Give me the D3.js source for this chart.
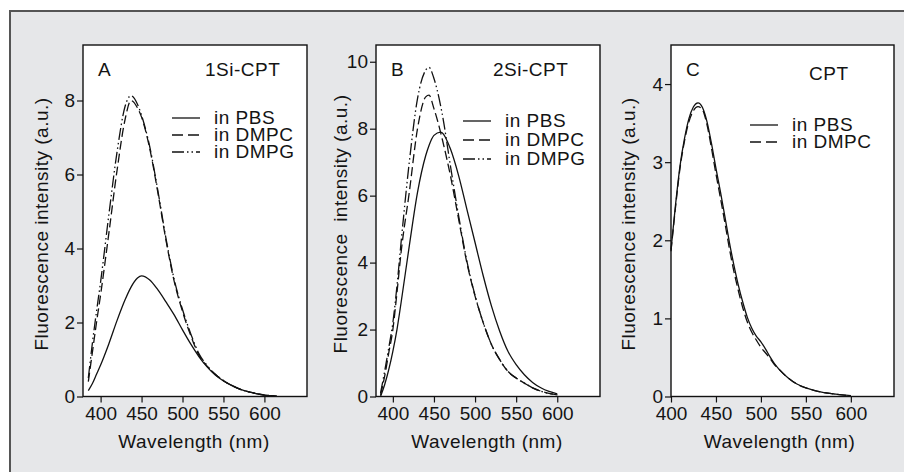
<!DOCTYPE html>
<html>
<head>
<meta charset="utf-8">
<script src="https://cdn.jsdelivr.net/npm/d3@7"></script>
<style>
  body { margin: 0; background: #fff; }
  text { font-family: "Liberation Sans", Arial, sans-serif; fill: #141414; }
</style>
</head>
<body>
<svg id="chart" width="904" height="472"></svg>
<script>
// panel A : 1Si-CPT
var wlA = [385, 390, 395, 400, 410, 420, 430, 437, 445, 450, 460, 470, 480, 490, 500, 510, 520, 530, 540, 550, 560, 570, 580, 590, 600, 610, 615];
var aPBS  = [0.16, 0.35, 0.6, 0.85, 1.42, 2.05, 2.62, 2.95, 3.2, 3.26, 3.15, 2.88, 2.55, 2.2, 1.8, 1.42, 1.08, 0.8, 0.58, 0.42, 0.3, 0.2, 0.13, 0.08, 0.04, 0.02, 0.01];
var aDMPC = [0.4, 1.2, 2.0, 2.75, 4.4, 6.1, 7.5, 8.0, 7.8, 7.55, 6.7, 5.5, 4.2, 3.1, 2.3, 1.65, 1.12, 0.82, 0.6, 0.43, 0.3, 0.2, 0.13, 0.08, 0.04, 0.02, 0.01];
var aDMPG = [0.5, 1.45, 2.3, 3.1, 4.9, 6.6, 7.85, 8.13, 7.9, 7.6, 6.75, 5.55, 4.25, 3.15, 2.35, 1.7, 1.16, 0.84, 0.6, 0.43, 0.3, 0.2, 0.13, 0.08, 0.04, 0.02, 0.01];

// panel B : 2Si-CPT
var wlB = [385, 390, 395, 400, 405, 410, 420, 430, 440, 444, 450, 458, 460, 470, 480, 490, 500, 510, 520, 530, 540, 550, 560, 570, 580, 590, 600];
var bPBS  = [0, 0.35, 0.8, 1.35, 2.0, 2.8, 4.5, 6.1, 7.2, 7.5, 7.8, 7.9, 7.88, 7.4, 6.6, 5.6, 4.6, 3.6, 2.7, 1.95, 1.35, 0.95, 0.65, 0.42, 0.26, 0.15, 0.08];
var bDMPC = [0.05, 0.6, 1.3, 2.0, 3.1, 4.3, 6.1, 8.0, 8.95, 9.0, 8.6, 7.9, 7.7, 6.6, 5.3, 4.0, 3.0, 2.2, 1.55, 1.1, 0.75, 0.55, 0.4, 0.26, 0.16, 0.09, 0.05];
var bDMPG = [0.1, 0.75, 1.45, 2.2, 3.3, 4.6, 7.0, 8.9, 9.75, 9.83, 9.5, 8.7, 8.45, 6.9, 5.4, 4.05, 3.02, 2.2, 1.55, 1.1, 0.75, 0.55, 0.4, 0.26, 0.16, 0.09, 0.05];

// panel C : CPT
var wlC = [400, 405, 410, 415, 420, 425, 430, 435, 440, 445, 450, 455, 460, 465, 470, 475, 480, 485, 490, 495, 500, 505, 510, 515, 520, 530, 540, 550, 560, 570, 580, 590, 600];
var cPBS  = [1.88, 2.45, 2.95, 3.3, 3.56, 3.71, 3.76, 3.7, 3.52, 3.24, 2.92, 2.62, 2.3, 1.97, 1.68, 1.42, 1.2, 1.01, 0.87, 0.77, 0.7, 0.61, 0.51, 0.42, 0.35, 0.24, 0.16, 0.11, 0.075, 0.05, 0.035, 0.02, 0.01];
var cDMPC = [1.86, 2.42, 2.92, 3.27, 3.52, 3.66, 3.71, 3.67, 3.48, 3.18, 2.85, 2.54, 2.22, 1.89, 1.6, 1.35, 1.13, 0.95, 0.82, 0.72, 0.63, 0.56, 0.49, 0.41, 0.35, 0.24, 0.16, 0.11, 0.075, 0.05, 0.035, 0.02, 0.01];

var xTicks = [400, 450, 500, 550, 600];
var yTicksA = [0, 2, 4, 6, 8];
var yTicksB = [0, 2, 4, 6, 8, 10];
var yTicksC = [0, 1, 2, 3, 4];

var seriesNames = ['in PBS', 'in DMPC', 'in DMPG'];
var dashes = [null, '9,4', '12,3,1.5,3,1.5,3'];

var plotTop = 45, plotBottom = 396.5;
var fs = 19;

var panels = [
  { letter: 'A', title: '1Si-CPT', left: 83, right: 307, xDom: [378.5, 652], yMax: 9.5, yTicks: yTicksA,
    wl: wlA, series: [aPBS, aDMPC, aDMPG], ylabel: 'Fluorescence intensity (a.u.)', ylabX: 48,
    titleX: 205, titleY: 76, legX: 172, legY: [118, 135, 152] },
  { letter: 'B', title: '2Si-CPT', left: 376, right: 600, xDom: [379.5, 652], yMax: 10.5, yTicks: yTicksB,
    wl: wlB, series: [bPBS, bDMPC, bDMPG], ylabel: 'Fluorescence  intensity (a.u.)', ylabX: 347,
    titleX: 493, titleY: 76, legX: 463, legY: [121, 140, 159] },
  { letter: 'C', title: 'CPT', left: 671, right: 894, xDom: [400, 648], yMax: 4.5, yTicks: yTicksC,
    wl: wlC, series: [cPBS, cDMPC], ylabel: 'Fluorescence intensity (a.u.)', ylabX: 635,
    titleX: 809, titleY: 80, legX: 750, legY: [125, 142] }
];

var svg = d3.select('#chart');

// grey backdrop with its frame
svg.append('rect')
  .attr('x', 10).attr('y', 11)
  .attr('width', 910).attr('height', 480)
  .attr('fill', '#e6e7e9')
  .attr('stroke', '#555')
  .attr('stroke-width', 2);

panels.forEach(function(p) {
  var x = d3.scaleLinear().domain(p.xDom).range([p.left, p.right]);
  var y = d3.scaleLinear().domain([0, p.yMax]).range([plotBottom, plotTop]);
  var g = svg.append('g');

  g.append('rect')
    .attr('x', p.left).attr('y', plotTop)
    .attr('width', p.right - p.left).attr('height', plotBottom - plotTop)
    .attr('fill', '#fff')
    .attr('stroke', '#111')
    .attr('stroke-width', 1.4);

  var xAxis = g.append('g')
    .attr('transform', 'translate(0,' + plotBottom + ')')
    .call(d3.axisBottom(x).tickValues(xTicks).tickSize(6).tickPadding(4).tickFormat(d3.format('d')));
  var yAxis = g.append('g')
    .attr('transform', 'translate(' + p.left + ',0)')
    .call(d3.axisLeft(y).tickValues(p.yTicks).tickSize(6).tickPadding(2).tickFormat(d3.format('d')));

  [xAxis, yAxis].forEach(function(a) {
    a.select('.domain').remove();
    a.selectAll('line').attr('stroke', '#111').attr('stroke-width', 1.2);
    a.selectAll('text').attr('font-size', fs).attr('fill', '#141414')
      .style('font-family', '"Liberation Sans", Arial, sans-serif');
  });

  var line = d3.line()
    .x(function(d) { return x(d[0]); })
    .y(function(d) { return y(d[1]); })
    .curve(d3.curveMonotoneX);

  p.series.forEach(function(vals, i) {
    var pts = p.wl.map(function(w, j) { return [w, vals[j]]; });
    g.append('path')
      .attr('d', line(pts))
      .attr('fill', 'none')
      .attr('stroke', '#111')
      .attr('stroke-width', 1.3)
      .attr('stroke-dasharray', dashes[i]);

    g.append('line')
      .attr('x1', p.legX).attr('x2', p.legX + 28)
      .attr('y1', p.legY[i]).attr('y2', p.legY[i])
      .attr('stroke', '#111')
      .attr('stroke-width', 1.3)
      .attr('stroke-dasharray', i == 1 ? '11,5' : dashes[i]);
    g.append('text')
      .attr('x', p.legX + 42).attr('y', p.legY[i] + 6)
      .attr('font-size', fs)
      .attr('letter-spacing', 0.5)
      .text(seriesNames[i]);
  });

  g.append('text').attr('x', p.left + 15).attr('y', 76).attr('font-size', fs).text(p.letter);
  g.append('text').attr('x', p.titleX).attr('y', p.titleY).attr('font-size', fs)
    .attr('letter-spacing', 0.5).text(p.title);

  g.append('text')
    .attr('x', (p.left + p.right) / 2 - (p.letter == 'C' ? 3 : 1))
    .attr('y', 448)
    .attr('text-anchor', 'middle')
    .attr('font-size', fs)
    .attr('letter-spacing', 0.5)
    .text('Wavelength (nm)');

  // keep the double space of panel B's label
  g.append('text')
    .attr('transform', 'translate(' + p.ylabX + ',' + 224 + ') rotate(-90)')
    .attr('text-anchor', 'middle')
    .attr('font-size', fs)
    .attr('letter-spacing', 0.5)
    .style('white-space', 'pre')
    .text(p.ylabel);
});
</script>
</body>
</html>
